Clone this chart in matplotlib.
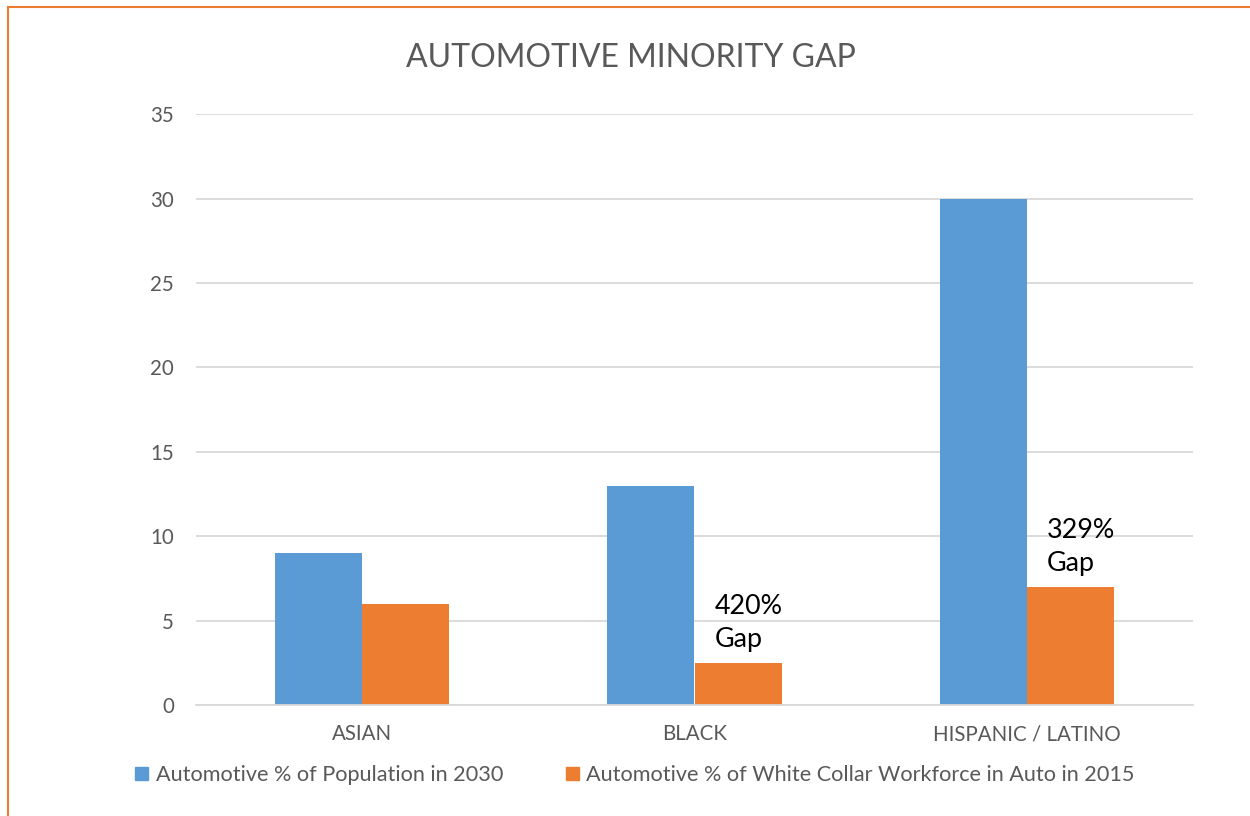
import numpy as np
import matplotlib.pyplot as plt
from matplotlib.lines import Line2D
from matplotlib.patches import Patch

categories = ['ASIAN', 'BLACK', 'HISPANIC / LATINO']
population_2030 = [9, 13, 30]
workforce_2015 = [6, 2.5, 7]
gap_labels = ['', '420%\nGap', '329%\nGap']

blue = '#5b9bd5'
orange = '#ed7d31'
grey = '#595959'

plt.rcParams['font.family'] = ['Lato', 'DejaVu Sans']

fig = plt.figure(figsize=(12.5, 8.16), dpi=100)
ax = fig.add_axes([0.1568, 0.136, 0.7976, 0.724])

x = np.arange(len(categories))
w = 0.262
ax.bar(x - w / 2, population_2030, w, color=blue, zorder=3)
ax.bar(x + w / 2, workforce_2015, w, color=orange, zorder=3)

for i, lab in enumerate(gap_labels):
    if lab:
        ax.text(x[i] + 0.06, workforce_2015[i] + 0.65, lab, fontsize=19.4,
                color='black', ha='left', va='bottom', linespacing=1.38)

ax.set_xlim(-0.5, 2.5)
ax.set_ylim(0, 35)
ax.set_yticks(range(0, 36, 5))
ax.set_xticks(x)
ax.set_xticklabels(categories)
ax.tick_params(axis='both', length=0, labelsize=14.8, colors=grey)
ax.tick_params(axis='x', pad=14)
ax.tick_params(axis='y', pad=16)
ax.yaxis.grid(True, color='#d9d9d9', linewidth=1.3, zorder=0)
for side in ['top', 'right', 'left']:
    ax.spines[side].set_visible(False)
ax.spines['bottom'].set_color('#d9d9d9')
ax.spines['bottom'].set_linewidth(1.3)
ax.spines['bottom'].set_zorder(4)

fig.text(0.505, 0.929, 'AUTOMOTIVE MINORITY GAP', ha='center', va='center',
         fontsize=23, color=grey)

handles = [Patch(color=blue), Patch(color=orange)]
fig.legend(handles, ['Automotive % of Population in 2030',
                     'Automotive % of White Collar Workforce in Auto in 2015'],
           loc='center', bbox_to_anchor=(0.508, 0.05), ncol=2, frameon=False,
           fontsize=15.6, handlelength=0.6, handleheight=0.6, handletextpad=0.35,
           columnspacing=2.9, labelcolor=grey)

# chart frame edges
fig.add_artist(Line2D([0.0064, 0.0064], [0, 0.9915], color=orange, lw=1.5))
fig.add_artist(Line2D([0.0064, 1], [0.9915, 0.9915], color=orange, lw=1.5))

fig.savefig('out.png', dpi=100)
